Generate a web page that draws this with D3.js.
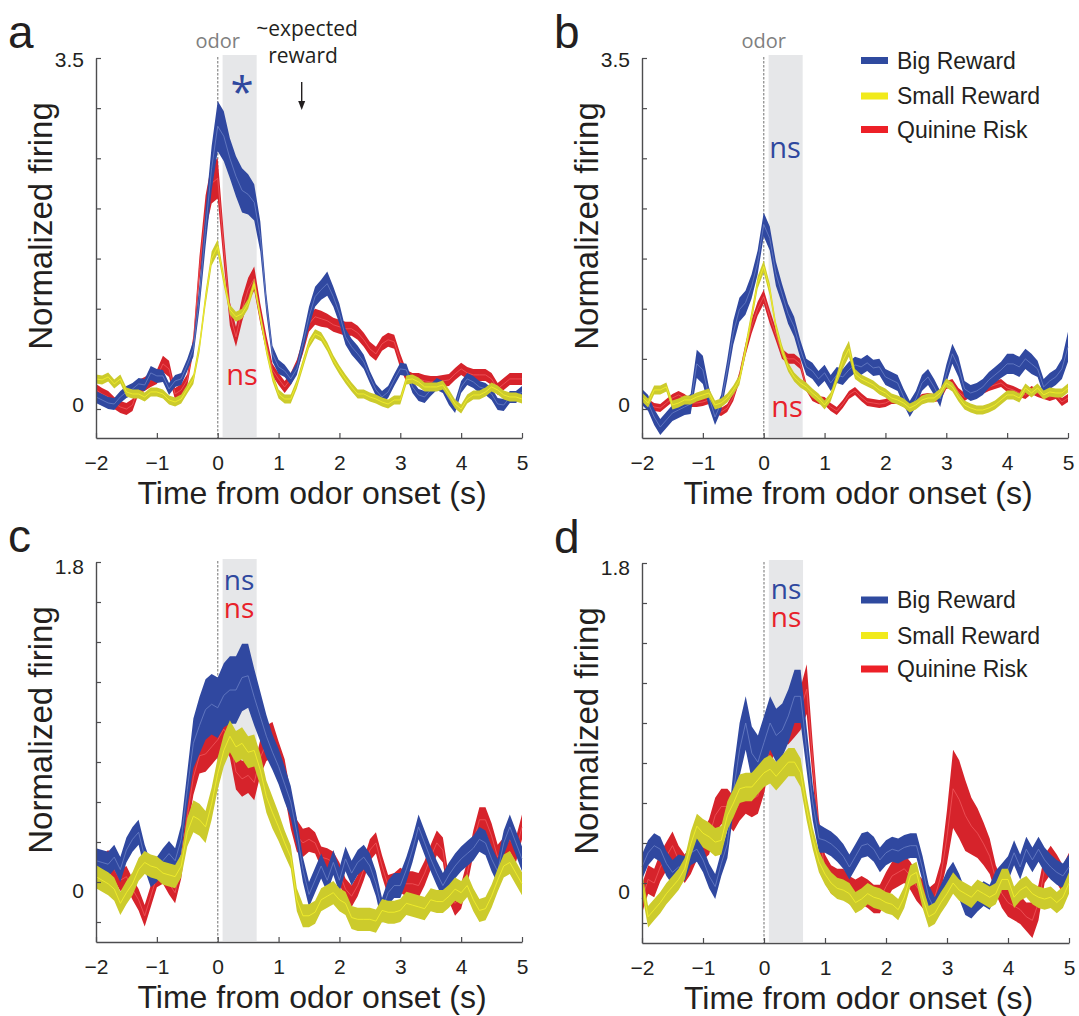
<!DOCTYPE html>
<html>
<head>
<meta charset="utf-8">
<script src="https://cdn.jsdelivr.net/npm/d3@7"></script>
<style>
  body { margin: 0; background: #fff; }
  svg text { font-family: "Liberation Sans", Arial, Helvetica, sans-serif; }
  .hum { font-family: "Open Sans", "Noto Sans", sans-serif !important; }
</style>
</head>
<body>
<svg id="chart" width="1079" height="1016"></svg>
<script>
// time bins, -2 s to 5 s in 0.1 s steps
var times = d3.range(71).map(function (i) { return Math.round(i - 20) / 10; });

// ---- panel a ----
var aBig = [
  0.12, 0.09, 0.06, 0.05, 0.12, 0.17, 0.2, 0.25, 0.24, 0.36,
  0.33, 0.33, 0.2, 0.28, 0.3, 0.44, 0.6, 1.12, 1.8, 2.4,
  2.82, 2.72, 2.5, 2.32, 2.18, 2.14, 2.06, 1.72, 1.05, 0.55,
  0.42, 0.38, 0.3, 0.4, 0.65, 0.92, 1.12, 1.19, 1.25, 1.12,
  0.95, 0.72, 0.62, 0.55, 0.47, 0.32, 0.19, 0.12, 0.17, 0.29,
  0.4, 0.39, 0.22, 0.14, 0.12, 0.19, 0.25, 0.22, 0.1, 0.02,
  0.22, 0.3, 0.27, 0.22, 0.2, 0.15, 0.05, 0.04, 0.12, 0.12,
  0.17];
var aBigSem = [
  .06, .06, .06, .06, .06, .06, .06, .06, .06, .07,
  .07, .06, .06, .06, .06, .06, .08, .12, .18, .22,
  .25, .25, .2, .2, .22, .2, .18, .15, .1, .08,
  .07, .06, .06, .06, .08, .1, .1, .1, .12, .1,
  .1, .08, .08, .08, .07, .06, .06, .06, .06, .06,
  .06, .06, .06, .06, .06, .06, .06, .06, .06, .06,
  .06, .06, .06, .06, .06, .06, .06, .06, .06, .06,
  .06];
var aSmall = [
  0.3, 0.29, 0.32, 0.25, 0.3, 0.17, 0.15, 0.15, 0.12, 0.17,
  0.17, 0.15, 0.09, 0.07, 0.1, 0.2, 0.3, 0.62, 1.1, 1.5,
  1.62, 1.29, 0.99, 0.92, 0.95, 1.05, 1.25, 0.92, 0.59, 0.32,
  0.15, 0.1, 0.1, 0.25, 0.45, 0.65, 0.75, 0.72, 0.62, 0.49,
  0.39, 0.3, 0.22, 0.15, 0.15, 0.12, 0.1, 0.07, 0.05, 0.09,
  0.09, 0.29, 0.3, 0.27, 0.22, 0.22, 0.22, 0.24, 0.15, 0.05,
  0.0, 0.1, 0.14, 0.14, 0.17, 0.22, 0.19, 0.14, 0.12, 0.12,
  0.1];
var aSmallSem = [
  .045, .045, .045, .045, .045, .045, .045, .045, .045, .045,
  .045, .045, .045, .045, .045, .045, .05, .06, .07, .07,
  .07, .06, .05, .05, .05, .05, .05, .05, .05, .045,
  .045, .045, .045, .045, .045, .045, .045, .045, .045, .045,
  .045, .045, .045, .045, .045, .045, .045, .045, .045, .045,
  .045, .045, .045, .045, .045, .045, .045, .045, .045, .045,
  .045, .045, .045, .045, .045, .045, .045, .045, .045, .045,
  .045];
var aQuin = [
  0.19, 0.15, 0.12, 0.06, 0.02, 0.0, 0.04, 0.22, 0.25, 0.29,
  0.32, 0.45, 0.4, 0.15, 0.19, 0.29, 0.65, 1.4, 1.95, 2.25,
  2.3, 1.6, 0.95, 0.72, 0.99, 1.19, 1.3, 0.95, 0.65, 0.39,
  0.3, 0.22, 0.3, 0.43, 0.62, 0.85, 0.92, 0.9, 0.88, 0.84,
  0.82, 0.8, 0.8, 0.76, 0.69, 0.6, 0.55, 0.65, 0.69, 0.67,
  0.48, 0.33, 0.3, 0.3, 0.28, 0.27, 0.27, 0.28, 0.29, 0.35,
  0.4, 0.36, 0.34, 0.34, 0.34, 0.3, 0.2, 0.25, 0.3, 0.3,
  0.3];
var aQuinSem = [
  .06, .06, .06, .06, .06, .06, .06, .07, .07, .07,
  .07, .08, .08, .06, .06, .06, .08, .12, .18, .2,
  .2, .15, .12, .1, .12, .12, .12, .1, .08, .06,
  .06, .06, .06, .06, .07, .08, .08, .08, .07, .07,
  .07, .07, .07, .07, .07, .07, .07, .07, .07, .07,
  .07, .06, .06, .06, .06, .06, .06, .06, .06, .06,
  .06, .06, .06, .06, .06, .06, .06, .06, .06, .06,
  .06];

// ---- panel b ----
var bBig = [
  0.12, 0.06, -0.08, -0.18, -0.11, -0.04, -0.01, 0.02, 0.05, 0.45,
  0.39, 0.12, -0.08, 0.06, 0.39, 0.76, 0.99, 1.06, 1.22, 1.46,
  1.84, 1.7, 1.35, 1.15, 0.95, 0.82, 0.6, 0.42, 0.38, 0.3,
  0.36, 0.26, 0.34, 0.32, 0.39, 0.44, 0.42, 0.46, 0.41, 0.42,
  0.32, 0.29, 0.26, 0.12, 0.0, 0.1, 0.26, 0.32, 0.22, 0.1,
  0.35, 0.55, 0.42, 0.2, 0.16, 0.18, 0.22, 0.29, 0.34, 0.39,
  0.45, 0.45, 0.42, 0.5, 0.45, 0.4, 0.22, 0.28, 0.32, 0.4,
  0.62];
var bBigSem = [
  .08, .08, .08, .08, .08, .08, .08, .08, .1, .14,
  .14, .1, .08, .08, .1, .12, .12, .12, .12, .12,
  .12, .12, .12, .1, .1, .1, .09, .08, .08, .08,
  .08, .08, .08, .08, .08, .08, .08, .08, .08, .08,
  .08, .08, .08, .08, .08, .08, .08, .08, .08, .08,
  .09, .1, .1, .08, .08, .08, .08, .08, .08, .08,
  .1, .1, .1, .1, .1, .08, .08, .08, .08, .1,
  .15];
var bSmall = [
  0.12, 0.06, 0.19, 0.19, 0.22, 0.04, 0.06, 0.09, 0.09, 0.12,
  0.14, 0.16, 0.04, 0.06, 0.11, 0.19, 0.29, 0.59, 0.92, 1.26,
  1.42, 1.19, 0.82, 0.59, 0.42, 0.32, 0.26, 0.22, 0.16, 0.11,
  0.04, 0.12, 0.3, 0.48, 0.6, 0.35, 0.3, 0.27, 0.24, 0.19,
  0.16, 0.11, 0.09, 0.06, 0.01, 0.04, 0.09, 0.11, 0.11, 0.16,
  0.26, 0.22, 0.12, 0.04, 0.01, -0.01, -0.01, 0.01, 0.04, 0.09,
  0.14, 0.14, 0.11, 0.21, 0.16, 0.21, 0.14, 0.17, 0.16, 0.16,
  0.21];
var bSmallSem = [
  .045, .045, .045, .045, .045, .045, .045, .045, .045, .045,
  .045, .045, .045, .045, .045, .045, .05, .06, .06, .06,
  .06, .06, .05, .05, .045, .045, .045, .045, .045, .045,
  .045, .045, .05, .08, .08, .05, .045, .045, .045, .045,
  .045, .045, .045, .045, .045, .045, .045, .045, .045, .045,
  .045, .045, .045, .045, .045, .045, .045, .045, .045, .045,
  .045, .045, .045, .045, .045, .045, .045, .045, .045, .045,
  .045];
var bQuin = [
  0.12, 0.06, 0.02, 0.01, 0.06, 0.11, 0.14, 0.11, 0.06, 0.06,
  0.07, 0.09, -0.01, -0.03, 0.01, 0.12, 0.32, 0.59, 0.82, 1.0,
  1.12, 0.92, 0.74, 0.55, 0.5, 0.5, 0.45, 0.22, 0.12, 0.09,
  0.08, 0.02, -0.02, 0.05, 0.14, 0.18, 0.12, 0.07, 0.06, 0.05,
  0.06, 0.09, 0.09, 0.06, 0.01, 0.06, 0.11, 0.12, 0.11, 0.12,
  0.24, 0.26, 0.17, 0.12, 0.16, 0.17, 0.19, 0.22, 0.24, 0.26,
  0.21, 0.19, 0.16, 0.14, 0.19, 0.16, 0.14, 0.12, 0.14, 0.07,
  0.11];
var bQuinSem = [
  .04, .04, .04, .04, .04, .04, .04, .04, .04, .04,
  .04, .04, .04, .04, .04, .04, .05, .06, .07, .07,
  .07, .07, .06, .05, .05, .05, .05, .04, .04, .04,
  .04, .04, .04, .04, .04, .04, .04, .04, .04, .04,
  .04, .04, .04, .04, .04, .04, .04, .04, .04, .04,
  .04, .04, .04, .04, .04, .04, .04, .04, .04, .04,
  .04, .04, .04, .04, .04, .04, .04, .04, .04, .04,
  .04];

// ---- panel c ----
var cBig = [
  0.12, 0.11, 0.1, 0.14, 0.07, 0.18, 0.24, 0.28, 0.14, 0.04,
  0.07, 0.12, 0.16, 0.12, 0.24, 0.52, 0.78, 0.88, 0.97, 1.0,
  0.98, 1.05, 1.08, 1.08, 1.15, 1.16, 1.04, 0.93, 0.82, 0.73,
  0.65, 0.55, 0.45, 0.28, 0.07, -0.07, 0.01, 0.09, 0.01, 0.11,
  0.01, 0.13, 0.05, 0.11, 0.14, 0.09, -0.01, -0.16, -0.06, -0.02,
  -0.02, 0.07, 0.18, 0.31, 0.22, 0.13, 0.05, -0.02, 0.04, 0.09,
  0.13, 0.16, 0.19, 0.24, 0.22, 0.13, 0.06, 0.22, 0.31, 0.22,
  0.13];
var cBigSem = [
  .07, .07, .07, .07, .07, .07, .07, .07, .07, .07,
  .07, .07, .07, .07, .08, .1, .14, .16, .17, .17,
  .17, .18, .19, .19, .19, .18, .16, .14, .12, .1,
  .1, .1, .09, .08, .07, .07, .07, .07, .07, .07,
  .07, .07, .07, .07, .07, .07, .07, .07, .07, .07,
  .07, .07, .07, .07, .07, .07, .07, .07, .07, .07,
  .07, .07, .07, .07, .07, .07, .07, .07, .07, .07,
  .07];
var cSmall = [
  0.03, 0.01, -0.01, -0.04, -0.12, -0.06, -0.01, 0.07, 0.11, 0.09,
  0.08, 0.05, 0.04, 0.03, 0.09, 0.28, 0.37, 0.35, 0.31, 0.44,
  0.61, 0.74, 0.82, 0.76, 0.78, 0.73, 0.74, 0.63, 0.48, 0.39,
  0.31, 0.22, 0.14, -0.1, -0.19, -0.19, -0.17, -0.1, -0.08, -0.06,
  -0.1, -0.12, -0.2, -0.21, -0.21, -0.21, -0.22, -0.16, -0.17, -0.17,
  -0.16, -0.12, -0.13, -0.14, -0.15, -0.1, -0.11, -0.11, -0.08, -0.04,
  -0.06, -0.02, -0.1, -0.16, -0.15, -0.08, 0.01, 0.09, 0.11, 0.05,
  -0.01];
var cSmallSem = [
  .065, .065, .065, .065, .065, .065, .065, .065, .065, .065,
  .065, .065, .065, .065, .065, .08, .09, .09, .09, .09,
  .09, .09, .09, .09, .09, .09, .09, .09, .09, .09,
  .08, .07, .065, .065, .065, .065, .065, .065, .065, .065,
  .065, .065, .065, .065, .065, .065, .065, .065, .065, .065,
  .065, .065, .065, .065, .065, .065, .065, .065, .065, .065,
  .065, .065, .065, .065, .065, .065, .065, .065, .065, .065,
  .065];
var cQuin = [
  0.07, 0.09, 0.12, 0.07, 0.01, 0.03, -0.04, -0.1, -0.19, -0.08,
  0.03, 0.05, -0.01, -0.06, 0.09, 0.37, 0.59, 0.71, 0.72, 0.76,
  0.8, 0.86, 0.8, 0.62, 0.58, 0.6, 0.56, 0.7, 0.78, 0.8,
  0.69, 0.59, 0.4, 0.26, 0.22, 0.24, 0.22, 0.14, 0.13, 0.11,
  0.05, -0.04, -0.08, -0.02, 0.07, 0.18, 0.22, 0.09, -0.02, -0.01,
  0.01, -0.01, -0.01, -0.02, 0.05, 0.14, 0.22, 0.18, -0.04, -0.12,
  -0.08, 0.05, 0.22, 0.35, 0.35, 0.26, 0.14, 0.18, 0.24, 0.18,
  0.31];
var cQuinSem = [
  .06, .06, .06, .06, .06, .06, .06, .06, .06, .06,
  .06, .06, .06, .06, .07, .09, .1, .1, .1, .1,
  .1, .1, .1, .1, .1, .1, .1, .1, .1, .1,
  .1, .1, .1, .09, .08, .07, .06, .06, .06, .06,
  .06, .06, .06, .06, .06, .06, .06, .06, .06, .06,
  .07, .07, .07, .07, .07, .07, .07, .07, .07, .07,
  .07, .07, .07, .07, .07, .07, .07, .07, .07, .07,
  .07];

// ---- panel d ----
var dBig = [
  0.09, 0.17, 0.21, 0.19, 0.11, 0.06, 0.09, 0.08, 0.17, 0.19,
  0.13, 0.04, -0.02, 0.11, 0.22, 0.52, 0.75, 0.9, 0.73, 0.68,
  0.79, 0.9, 0.83, 0.86, 0.94, 1.05, 1.05, 0.75, 0.45, 0.25,
  0.24, 0.22, 0.19, 0.15, 0.09, 0.15, 0.21, 0.22, 0.19, 0.13,
  0.17, 0.19, 0.18, 0.2, 0.21, 0.21, 0.08, -0.08, -0.15, -0.08,
  0.0, 0.05, -0.02, -0.11, -0.13, -0.09, -0.06, -0.08, 0.0, 0.04,
  0.08, 0.17, 0.09, 0.19, 0.13, 0.19, 0.13, 0.09, 0.06, 0.04,
  0.09];
var dBigSem = [
  .07, .07, .07, .07, .07, .07, .07, .07, .07, .07,
  .07, .07, .07, .07, .08, .12, .15, .15, .15, .15,
  .15, .15, .15, .15, .15, .15, .15, .12, .1, .08,
  .07, .07, .07, .07, .07, .07, .07, .07, .07, .07,
  .07, .07, .07, .07, .07, .07, .07, .07, .07, .07,
  .07, .07, .07, .07, .07, .07, .07, .07, .07, .07,
  .07, .07, .07, .07, .07, .07, .07, .07, .07, .07,
  .07];
var dSmall = [
  0.0, -0.19, -0.15, -0.11, -0.06, -0.02, 0.02, 0.08, 0.22, 0.32,
  0.28, 0.26, 0.23, 0.24, 0.38, 0.45, 0.53, 0.54, 0.54, 0.58,
  0.62, 0.64, 0.6, 0.64, 0.68, 0.68, 0.62, 0.42, 0.25, 0.12,
  0.05, 0.0, -0.03, -0.04, -0.06, -0.11, -0.09, -0.06, -0.08, -0.09,
  -0.11, -0.12, -0.15, -0.08, 0.04, 0.06, -0.08, -0.19, -0.17, -0.11,
  -0.06, 0.0, -0.04, -0.06, -0.08, -0.04, -0.06, -0.08, -0.06, 0.02,
  0.02, -0.08, -0.04, -0.02, -0.06, -0.08, -0.09, -0.08, -0.11, -0.08,
  0.0];
var dSmallSem = [
  .06, .06, .06, .06, .06, .06, .06, .06, .07, .07,
  .08, .08, .08, .08, .08, .08, .08, .08, .08, .08,
  .08, .08, .08, .08, .08, .08, .08, .07, .06, .06,
  .06, .06, .06, .06, .06, .06, .06, .06, .06, .06,
  .06, .06, .06, .06, .06, .06, .06, .06, .06, .06,
  .06, .06, .06, .06, .06, .06, .06, .06, .06, .06,
  .06, .06, .06, .06, .06, .06, .06, .06, .06, .06,
  .06];
var dQuin = [
  -0.09, 0.02, 0.0, 0.09, 0.15, 0.21, 0.13, 0.08, 0.13, 0.21,
  0.21, 0.26, 0.38, 0.43, 0.43, 0.39, 0.45, 0.49, 0.47, 0.49,
  0.6, 0.77, 0.85, 0.88, 0.88, 0.92, 0.98, 1.09, 0.68, 0.28,
  0.08, 0.02, 0.0, 0.0, -0.04, -0.06, -0.04, -0.06, -0.09, -0.09,
  -0.02, 0.04, 0.06, 0.08, 0.04, -0.02, -0.06, -0.11, -0.08, 0.04,
  0.26, 0.53, 0.47, 0.38, 0.32, 0.28, 0.22, 0.15, 0.02, -0.06,
  -0.11, -0.13, -0.15, -0.19, -0.21, -0.11, 0.08, 0.13, 0.08, 0.02,
  0.09];
var dQuinSem = [
  .08, .08, .08, .08, .08, .08, .08, .08, .08, .08,
  .08, .1, .1, .1, .1, .1, .1, .1, .1, .1,
  .1, .1, .1, .1, .1, .1, .12, .14, .1, .08,
  .08, .08, .08, .08, .08, .08, .08, .08, .08, .08,
  .08, .08, .08, .08, .08, .08, .08, .08, .08, .08,
  .15, .22, .22, .2, .16, .14, .12, .1, .08, .08,
  .08, .08, .08, .08, .1, .1, .08, .08, .08, .08,
  .08];

var xTicks = [-2, -1, 0, 1, 2, 3, 4, 5];
var legendNames = ["Big Reward", "Small Reward", "Quinine Risk"];

var colors = {
  big:   { band: "#3048a0", line: "#6a7fc6", key: "#2f4a9f", text: "#2f489e" },
  small: { band: "#cccb2c", line: "#f6f32a", key: "#f1ea1b" },
  quin:  { band: "#d6232b", line: "#f0585d", key: "#ed2027", text: "#e8212a" }
};

var panels = [
  { letter: "a", x0: 96, x1: 522, yTop: 58, yZero: 409, yBot: 438, yMax: 3.5, ticks: d3.range(0, 3.51, 0.5),
    yLabels: [["3.5", 3.5, 2], ["0", 0, -4]],
    big: [aBig, aBigSem], small: [aSmall, aSmallSem], quin: [aQuin, aQuinSem],
    odor: true, legend: null,
    notes: [["*", "big", 242, 107, 42], ["ns", "quin", 242, 385, 29]] },
  { letter: "b", x0: 642, x1: 1068, yTop: 58, yZero: 409, yBot: 438, yMax: 3.5, ticks: d3.range(0, 3.51, 0.5),
    yLabels: [["3.5", 3.5, 2], ["0", 0, -4]],
    big: [bBig, bBigSem], small: [bSmall, bSmallSem], quin: [bQuin, bQuinSem],
    odor: true, legend: [60.5, 96, 129.5],
    notes: [["ns", "big", 785, 158, 29], ["ns", "quin", 787, 417, 29]] },
  { letter: "c", x0: 96, x1: 522, yTop: 562, yZero: 882, yBot: 942, yMax: 1.8, ticks: d3.range(-0.225, 1.81, 0.225),
    yLabels: [["1.8", 1.8, 5], ["0", 0, 9]],
    big: [cBig, cBigSem], small: [cSmall, cSmallSem], quin: [cQuin, cQuinSem],
    odor: false, legend: null,
    notes: [["ns", "big", 239, 590, 28], ["ns", "quin", 239, 618, 28]] },
  { letter: "d", x0: 642, x1: 1069, yTop: 563, yZero: 883, yBot: 943, yMax: 1.8, ticks: d3.range(-0.225, 1.81, 0.225),
    yLabels: [["1.8", 1.8, 5], ["0", 0, 9]],
    big: [dBig, dBigSem], small: [dSmall, dSmallSem], quin: [dQuin, dQuinSem],
    odor: false, legend: [600, 635.5, 669],
    notes: [["ns", "big", 786, 599, 28], ["ns", "quin", 786, 627, 28]] }
];

var svg = d3.select("#chart");

panels.forEach(function (p) {
  var g = svg.append("g");
  var perUnit = (p.yZero - p.yTop) / p.yMax;
  var yMin = -(p.yBot - p.yZero) / perUnit;
  var x = d3.scaleLinear().domain([-2, 5]).range([p.x0, p.x1]);
  var y = d3.scaleLinear().domain([yMin, p.yMax]).range([p.yBot, p.yTop]);

  // odor window shading and onset line
  g.append("rect")
    .attr("x", x(0.08)).attr("width", x(0.64) - x(0.08))
    .attr("y", p.yTop - 3).attr("height", p.yBot - p.yTop + 2)
    .attr("fill", "#e6e7e9");
  g.append("line")
    .attr("x1", x(0)).attr("x2", x(0))
    .attr("y1", p.yTop - 1).attr("y2", p.yBot)
    .attr("stroke", "#9a9a9a").attr("stroke-width", 1.4)
    .attr("stroke-dasharray", "2.5,1.5");

  // bands (mean +/- sem) with mean line
  ["quin", "big", "small"].forEach(function (key) {
    var mean = p[key][0], sem = p[key][1];
    var pts = times.map(function (t, i) { return { t: t, m: mean[i], s: sem[i] }; });
    var area = d3.area()
      .x(function (d) { return x(d.t); })
      .y0(function (d) { return y(d.m - d.s); })
      .y1(function (d) { return y(d.m + d.s); });
    var line = d3.line()
      .x(function (d) { return x(d.t); })
      .y(function (d) { return y(d.m); });
    g.append("path").datum(pts).attr("d", area).attr("fill", colors[key].band);
    g.append("path").datum(pts).attr("d", line)
      .attr("fill", "none").attr("stroke", colors[key].line)
      .attr("stroke-width", 1).attr("opacity", 0.8);
  });

  // axes
  var xAxis = d3.axisBottom(x).tickValues(xTicks).tickSize(-5).tickSizeOuter(0).tickPadding(17)
    .tickFormat(function (d) { return d < 0 ? "\u2212" + Math.abs(d) : d; });
  var gx = g.append("g").attr("transform", "translate(0," + p.yBot + ")").call(xAxis);
  gx.selectAll("text").attr("font-size", 21).attr("fill", "#231f20")
    .style("font-family", "'Liberation Sans', Arial, sans-serif");

  var yAxis = d3.axisLeft(y).tickValues(p.ticks).tickSize(-5).tickSizeOuter(0).tickFormat("");
  var gy = g.append("g").attr("transform", "translate(" + p.x0 + ",0)").call(yAxis);
  [gx, gy].forEach(function (a) {
    a.select(".domain").attr("stroke", "#4d4d4f").attr("stroke-width", 1.4);
    a.selectAll(".tick line").attr("stroke", "#4d4d4f").attr("stroke-width", 1.2);
  });

  p.yLabels.forEach(function (l) {
    g.append("text").attr("x", p.x0 - 12).attr("y", y(l[1]) + l[2])
      .attr("dy", "0.35em").attr("text-anchor", "end")
      .attr("font-size", 21).attr("fill", "#231f20").text(l[0]);
  });

  // axis titles
  g.append("text")
    .attr("x", (p.x0 + p.x1) / 2 + 3).attr("y", p.yBot + 66)
    .attr("text-anchor", "middle").attr("font-size", 32).attr("fill", "#231f20")
    .text("Time from odor onset (s)");
  g.append("text")
    .attr("transform", "translate(" + (p.x0 - 44) + "," + ((p.yTop + p.yBot) / 2 - 22) + ") rotate(-90)")
    .attr("text-anchor", "middle").attr("font-size", 33).attr("fill", "#231f20")
    .text("Normalized firing");

  // panel letter
  g.append("text").attr("x", p.x0 - 88).attr("y", p.yTop - 10)
    .attr("font-size", 46).attr("fill", "#231f20").text(p.letter);

  if (p.odor) {
    g.append("text").attr("class", "hum")
      .attr("x", x(0)).attr("y", p.yTop - 10).attr("text-anchor", "middle")
      .attr("font-size", 20).attr("fill", "#808080").text("odor");
  }

  p.notes.forEach(function (n) {
    g.append("text").attr("class", "hum")
      .attr("x", n[2]).attr("y", n[3]).attr("text-anchor", "middle")
      .attr("font-size", n[4]).attr("fill", colors[n[1]].text).text(n[0]);
  });

  if (p.legend) {
    ["big", "small", "quin"].forEach(function (k, i) {
      g.append("rect").attr("x", 861).attr("y", p.legend[i] - 3.5)
        .attr("width", 27).attr("height", 7).attr("fill", colors[k].key);
      g.append("text").attr("x", 897).attr("y", p.legend[i]).attr("dy", "0.35em")
        .attr("font-size", 23).attr("fill", "#231f20").text(legendNames[i]);
    });
  }

  if (p.letter === "a") {
    var ax = x(1.38);
    g.append("text").attr("class", "hum").attr("x", 307).attr("y", 36)
      .attr("text-anchor", "middle").attr("font-size", 21).attr("fill", "#231f20").text("~expected");
    g.append("text").attr("class", "hum").attr("x", 303).attr("y", 63)
      .attr("text-anchor", "middle").attr("font-size", 21).attr("fill", "#231f20").text("reward");
    g.append("line").attr("x1", ax).attr("x2", ax).attr("y1", 82).attr("y2", 106)
      .attr("stroke", "#231f20").attr("stroke-width", 1.4);
    g.append("path")
      .attr("d", "M" + (ax - 3.5) + ",101 L" + ax + ",110 L" + (ax + 3.5) + ",101 Z")
      .attr("fill", "#231f20");
  }
});
</script>
</body>
</html>
